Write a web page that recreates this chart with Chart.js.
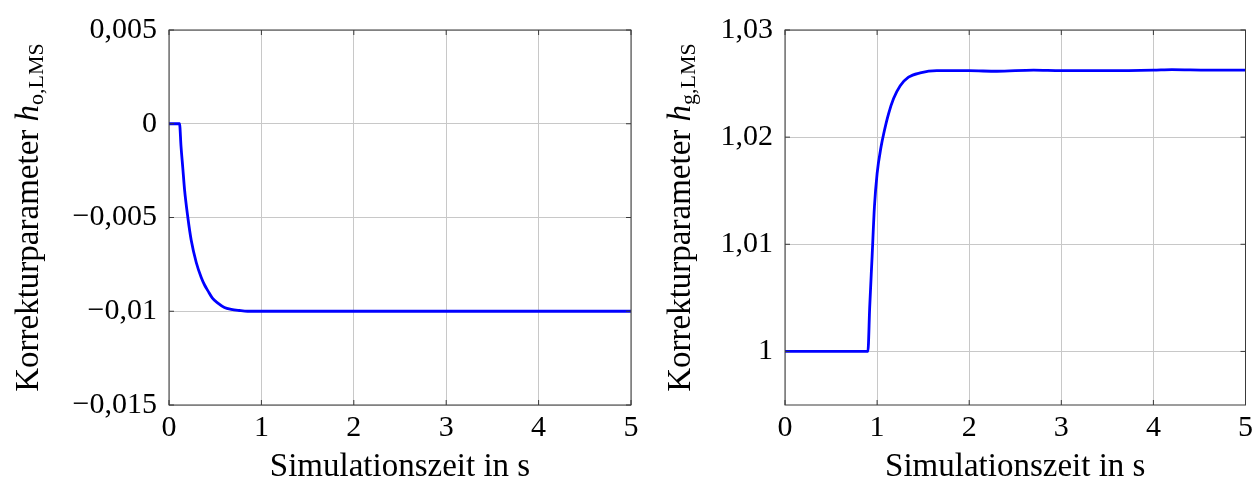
<!DOCTYPE html>
<html>
<head>
<meta charset="utf-8">
<script src="https://cdn.jsdelivr.net/npm/chart.js@4.4.1/dist/chart.umd.min.js"></script>
<style>
  html, body { margin: 0; padding: 0; background: #fff; }
  #wrap { position: relative; width: 1258px; height: 483px; }
  .box { position: absolute; top: 0; height: 483px; }
  #left { left: 0; width: 645px; }
  #right { left: 640px; width: 618px; }
</style>
</head>
<body>
<div id="wrap">
  <div class="box" id="left"><canvas id="chartO"></canvas></div>
  <div class="box" id="right"><canvas id="chartG"></canvas></div>
</div>
<script>
// Korrekturparameter h_o,LMS
const timeO = [0, 0.114, 0.13, 0.15, 0.168, 0.204, 0.24, 0.295, 0.349, 0.385, 0.42, 0.47, 0.529, 0.6, 0.673, 0.76, 0.85, 1.0, 1.5, 2.0, 2.5, 3.0, 3.5, 4.0, 4.5, 5.0];
const valuesO = [0, 0, -0.0012, -0.0024, -0.0035, -0.005, -0.0062, -0.0074, -0.0082, -0.0086, -0.0089, -0.0093, -0.00957, -0.0098, -0.0099, -0.00996, -0.01, -0.01, -0.01, -0.01, -0.01, -0.01, -0.01, -0.01, -0.01, -0.01];

// Korrekturparameter h_g,LMS
const timeG = [0, 0.9, 0.92, 0.946, 0.971, 1.0, 1.043, 1.071, 1.125, 1.179, 1.251, 1.341, 1.468, 1.648, 2.0, 2.3, 2.7, 3.0, 3.5, 4.0, 4.2, 4.6, 5.0];
const valuesG = [1, 1, 1.0042, 1.0089, 1.0135, 1.0166, 1.0191, 1.0203, 1.0222, 1.0236, 1.0248, 1.0256, 1.026, 1.0262, 1.0262, 1.02615, 1.02625, 1.0262, 1.0262, 1.02625, 1.0263, 1.02625, 1.02625];

const xTicks = [0, 1, 2, 3, 4, 5];
const yTicksO = [-0.015, -0.01, -0.005, 0, 0.005];
const yLabelsO = ['−0,015', '−0,01', '−0,005', '0', '0,005'];
const yTicksG = [1, 1.01, 1.02, 1.03];
const yLabelsG = ['1', '1,01', '1,02', '1,03'];
const xTitle = 'Simulationszeit in s';

const SERIF = '"Liberation Serif", "DejaVu Serif", serif';
Chart.defaults.font.family = SERIF;
Chart.defaults.color = '#000';

// frame round the plot area plus the small inner tick marks
const framePlugin = {
  id: 'frame',
  afterDatasetsDraw(chart) {
    const { ctx, chartArea: a, scales } = chart;
    const t = 5;
    ctx.save();
    ctx.strokeStyle = '#3a3a3a';
    ctx.lineWidth = 1;
    ctx.beginPath();
    scales.x.ticks.forEach(tk => {
      const px = scales.x.getPixelForValue(tk.value);
      ctx.moveTo(px, a.bottom); ctx.lineTo(px, a.bottom - t);
      ctx.moveTo(px, a.top); ctx.lineTo(px, a.top + t);
    });
    scales.y.ticks.forEach(tk => {
      const py = scales.y.getPixelForValue(tk.value);
      ctx.moveTo(a.left, py); ctx.lineTo(a.left + t, py);
      ctx.moveTo(a.right, py); ctx.lineTo(a.right - t, py);
    });
    ctx.stroke();
    ctx.strokeRect(a.left, a.top, a.width, a.height);
    ctx.restore();
  }
};

// y title with italic h and a subscript
const yTitlePlugin = {
  id: 'yTitle',
  afterDraw(chart, args, opts) {
    const { ctx, chartArea: a } = chart;
    const parts = [
      { text: 'Korrekturparameter ', font: '33px ' + SERIF, dy: 0 },
      { text: 'h', font: 'italic 33px ' + SERIF, dy: 0 },
      { text: opts.sub, font: '22px ' + SERIF, dy: 5 }
    ];
    ctx.save();
    let total = 0;
    parts.forEach(p => { ctx.font = p.font; p.w = ctx.measureText(p.text).width; total += p.w; });
    ctx.translate(opts.x, (a.top + a.bottom) / 2);
    ctx.rotate(-Math.PI / 2);
    ctx.fillStyle = '#000';
    ctx.textBaseline = 'alphabetic';
    ctx.textAlign = 'left';
    let cx = -total / 2;
    parts.forEach(p => { ctx.font = p.font; ctx.fillText(p.text, cx, p.dy); cx += p.w; });
    ctx.restore();
  }
};

function makeChart(id, times, values, yMin, yMax, yTicks, yLabels, yWidth, padRight, sub, titleX) {
  return new Chart(document.getElementById(id), {
    type: 'line',
    data: {
      datasets: [{
        data: times.map((t, i) => ({ x: t, y: values[i] })),
        borderColor: '#0000ff',
        borderWidth: 2.8,
        pointRadius: 0,
        cubicInterpolationMode: 'monotone',
        fill: false
      }]
    },
    options: {
      responsive: true,
      maintainAspectRatio: false,
      animation: false,
      layout: { padding: { top: 27, right: padRight, left: 0, bottom: 0 } },
      plugins: {
        legend: { display: false },
        tooltip: { enabled: false },
        yTitle: { sub: sub, x: titleX }
      },
      scales: {
        x: {
          type: 'linear',
          min: 0,
          max: 5,
          afterBuildTicks: s => { s.ticks = xTicks.map(v => ({ value: v })); },
          afterFit: s => { s.height = 78; },
          ticks: { font: { size: 30 }, padding: 5, maxRotation: 0, callback: v => String(v) },
          grid: { color: '#c8c8c8', lineWidth: 1, drawTicks: false },
          border: { display: false },
          title: { display: true, text: xTitle, font: { size: 33 }, padding: { top: 0, bottom: -4 } }
        },
        y: {
          type: 'linear',
          min: yMin,
          max: yMax,
          afterBuildTicks: s => { s.ticks = yTicks.map(v => ({ value: v })); },
          afterFit: s => { s.width = yWidth; },
          ticks: { font: { size: 30 }, padding: 12, callback: (v, i) => yLabels[i] },
          grid: { color: '#c8c8c8', lineWidth: 1, drawTicks: false },
          border: { display: false }
        }
      }
    },
    plugins: [framePlugin, yTitlePlugin]
  });
}

makeChart('chartO', timeO, valuesO, -0.015, 0.005, yTicksO, yLabelsO, 169, 14, 'o,LMS', 38);
makeChart('chartG', timeG, valuesG, 0.995, 1.03, yTicksG, yLabelsG, 145, 12, 'g,LMS', 50);
</script>
</body>
</html>
